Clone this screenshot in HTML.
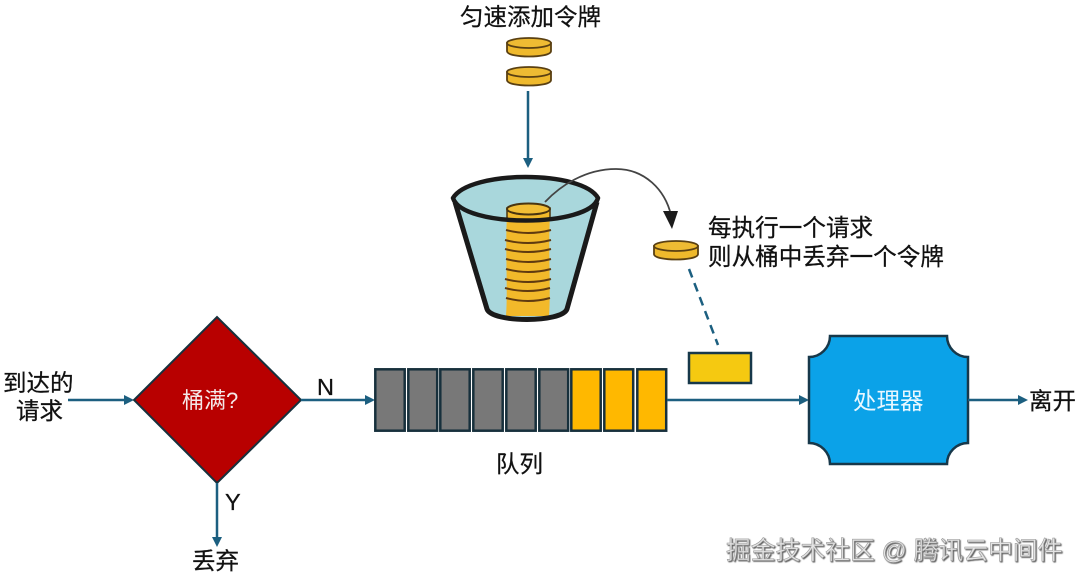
<!DOCTYPE html>
<html lang="zh">
<head>
<meta charset="utf-8">
<style>
html,body{margin:0;padding:0;background:#fff}
svg{display:block}
text{font-family:"Liberation Sans","Noto Sans CJK SC",sans-serif;fill:#111;stroke:#111;stroke-width:.25px}
</style>
</head>
<body>
<svg width="1080" height="583" viewBox="0 0 1080 583" xmlns="http://www.w3.org/2000/svg">
<defs>
<g id="coin">
  <path d="M-22 -4 V4 C-22 8 -10 9.500 0 9.500 C10 9.500 22 8 22 4 V-4 Z" fill="#efb92c" stroke="#5a4012" stroke-width="1.800"/>
  <ellipse cx="0" cy="-4" rx="22" ry="5" fill="#eebb33" stroke="#5a4012" stroke-width="1.800"/>
</g>
<filter id="bevel" x="-5%" y="-20%" width="110%" height="140%">
  <feDropShadow dx="1" dy="1" stdDeviation="0.400" flood-color="#444" flood-opacity="0.900"/>
</filter>
</defs>

<text x="460" y="25" font-size="23.500">匀速添加令牌</text>
<use href="#coin" x="529" y="47"/>
<use href="#coin" x="529" y="76"/>

<line x1="528" y1="91" x2="528" y2="160" stroke="#1c5f80" stroke-width="2.500"/>
<polygon points="523,158 533,158 528,168" fill="#1c5f80"/>

<!-- bucket -->
<path d="M453 198 C470 170 582 170 598 198 L567 311 C563 322 490 322 487 311 Z" fill="#a9d7dc"/>
<path d="M507 215 C505 250 508 290 506 316 H549 C551 290 548 250 550 215 Z" fill="#f2b92a"/>
<g stroke="#5f3a10" stroke-width="2" fill="none">
  <path d="M506 230 Q528 236 551 230"/>
  <path d="M505 240 Q528 246 551 240"/>
  <path d="M505 249 Q528 255 551 249"/>
  <path d="M506 259 Q528 265 551 259"/>
  <path d="M506 269 Q528 275 551 269"/>
  <path d="M505 279 Q528 285 551 279"/>
  <path d="M505 288 Q528 294 550 288"/>
  <path d="M506 298 Q528 304 550 298"/>
</g>
<path d="M507 208 V220 H550 V208 Z" fill="#f2b92a" stroke="#4a3510" stroke-width="1.500"/>
<ellipse cx="528.500" cy="209" rx="21.500" ry="5.500" fill="#f2be35" stroke="#4a3510" stroke-width="2"/>
<path d="M453 198 C470 170 582 170 598 198 C590 228 462 228 453 198 Z" fill="none" stroke="#1a1a1a" stroke-width="4.500" stroke-linejoin="round"/>
<path d="M455 202 L487 309 C492 323 562 323 567 309 L597 202" fill="none" stroke="#1a1a1a" stroke-width="5" stroke-linejoin="round"/>

<!-- curved arrow -->
<path d="M545 202 C560 186 585 169 616 169 C645 169 665 190 671 215" fill="none" stroke="#444" stroke-width="1.800"/>
<polygon points="663,211 678,211 672,229" fill="#1c1c1c"/>

<use href="#coin" x="676" y="250"/>

<text x="708" y="236" font-size="23.600">每执行一个请求</text>
<text x="708" y="265" font-size="23.600">则从桶中丢弃一个令牌</text>

<line x1="689" y1="269" x2="718" y2="345" stroke="#1c5f80" stroke-width="2.500" stroke-dasharray="9 6"/>
<rect x="689" y="353" width="62" height="30" fill="#f5c911" stroke="#17384a" stroke-width="2.500"/>

<!-- input -->
<text x="3" y="391" font-size="23.500">到达的</text>
<text x="16" y="419" font-size="23.500">请求</text>
<line x1="68" y1="400" x2="125" y2="400" stroke="#1c5f80" stroke-width="2.500"/>
<polygon points="124,395 124,405 134,400" fill="#1c5f80"/>

<!-- diamond -->
<polygon points="134,400 217,317 301,400 217,483" fill="#b80000" stroke="#17303c" stroke-width="2"/>
<text x="182" y="408" font-size="22" style="fill:#f4e8e8;stroke:none">桶满?</text>

<!-- N -->
<text x="317" y="395" font-size="23.500">N</text>
<line x1="301" y1="400" x2="366" y2="400" stroke="#1c5f80" stroke-width="2.500"/>
<polygon points="365,395 365,405 375,400" fill="#1c5f80"/>

<!-- Y -->
<text x="225" y="510" font-size="23.500">Y</text>
<line x1="217" y1="483" x2="217" y2="538" stroke="#1c5f80" stroke-width="2.500"/>
<polygon points="212,537 222,537 217,547" fill="#1c5f80"/>
<text x="192" y="569" font-size="23.500">丢弃</text>

<!-- queue -->
<g stroke="#17303c" stroke-width="2.500">
  <rect x="375.300" y="369.300" width="29.400" height="61.400" fill="#787878"/>
  <rect x="408.300" y="369.300" width="28.900" height="61.400" fill="#787878"/>
  <rect x="440.300" y="369.300" width="29.400" height="61.400" fill="#787878"/>
  <rect x="473.300" y="369.300" width="29.400" height="61.400" fill="#787878"/>
  <rect x="506.300" y="369.300" width="29.400" height="61.400" fill="#787878"/>
  <rect x="539.300" y="369.300" width="28.900" height="61.400" fill="#787878"/>
  <rect x="571.300" y="369.300" width="29.400" height="61.400" fill="#ffb800"/>
  <rect x="604.300" y="369.300" width="28.900" height="61.400" fill="#ffb800"/>
  <rect x="637.300" y="369.300" width="28.900" height="61.400" fill="#ffb800"/>
</g>
<text x="496" y="472" font-size="23.500">队列</text>

<line x1="667" y1="400" x2="800" y2="400" stroke="#1c5f80" stroke-width="2.500"/>
<polygon points="799,395 799,405 809,400" fill="#1c5f80"/>

<!-- processor -->
<path d="M830 336 H947 A21 21 0 0 0 968 357 V443 A21 21 0 0 0 947 464 H830 A21 21 0 0 0 809 443 V357 A21 21 0 0 0 830 336 Z" fill="#0ba2e8" stroke="#17384a" stroke-width="2.500"/>
<text x="853" y="409" font-size="23.500" style="fill:#e8f7ff;stroke:none">处理器</text>

<line x1="968" y1="400" x2="1019" y2="400" stroke="#1c5f80" stroke-width="2.500"/>
<polygon points="1018,395 1018,405 1028,400" fill="#1c5f80"/>
<text x="1029" y="409" font-size="23.500">离开</text>

<!-- watermark -->
<text x="726" y="559" font-size="24.800" filter="url(#bevel)" style="fill:#e4e4e4;stroke:#999;stroke-width:.6px">掘金技术社区 @ 腾讯云中间件</text>
</svg>
</body>
</html>
